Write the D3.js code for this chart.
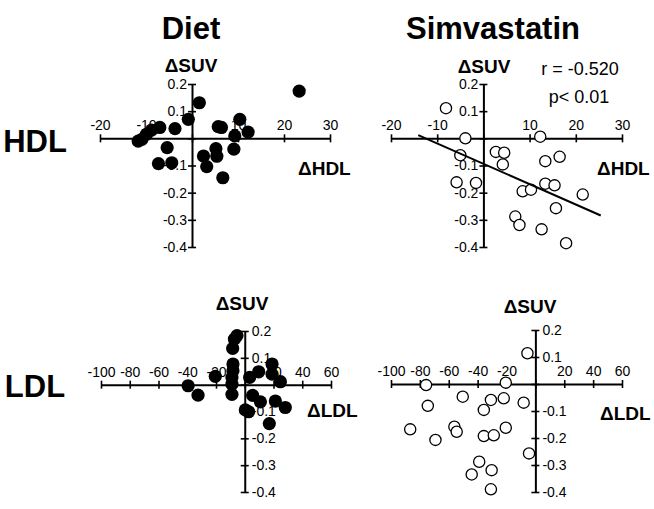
<!DOCTYPE html>
<html>
<head>
<meta charset="utf-8">
<script src="https://cdn.jsdelivr.net/npm/d3@7"></script>
<style>
  body { margin: 0; background: #fff; }
  text { font-family: "Liberation Sans", Arial, sans-serif; fill: #000; }
  .axis path, .axis line { stroke: #000; }
</style>
</head>
<body>
<div id="chart-area"></div>
<script>
// values
const hdlTicks = [-20, -10, 0, 10, 20, 30];
const ldlTicks = [-100, -80, -60, -40, -20, 0, 20, 40, 60];
const suvTicks = [-0.4, -0.3, -0.2, -0.1, 0, 0.1, 0.2];

const dietHdlX = [23.3, 1.6, -0.8, 10.4, 5.7, 6.4, 12.2, 9.3, -3.7, -7.0, -8.8, -9.9, -10.9, -11.7, -5.4, 9.1, 5.2, 2.5, 5.4, 3.2, -7.3, -4.4, 6.7];
const dietHdlY = [0.174, 0.131, 0.07, 0.07, 0.043, 0.04, 0.023, 0.009, 0.036, 0.04, 0.03, 0.015, -0.004, -0.01, -0.034, -0.04, -0.038, -0.065, -0.066, -0.104, -0.093, -0.09, -0.145];

const simHdlX = [-8.1, -3.9, 12.3, -5.0, 2.7, 4.5, 4.2, 13.4, 16.5, -5.8, -1.6, 8.5, 10.3, 13.4, 15.4, 21.5, 15.7, 6.9, 7.8, 12.6, 17.9];
const simHdlY = [0.111, 0, 0.006, -0.062, -0.05, -0.053, -0.096, -0.084, -0.068, -0.162, -0.164, -0.195, -0.189, -0.167, -0.173, -0.207, -0.257, -0.288, -0.319, -0.335, -0.386];

const dietLdlX = [-5.4, -7.2, -8.4, -8.2, -8.2, -8.9, -8.9, -8.9, -20.5, -39.4, -32.5, 0.4, 2.7, 5.5, 10.9, 3.4, 9.7, 19, 19, 24.8, 21.3, 28.2, 17.1];
const dietLdlY = [0.183, 0.17, 0.135, 0.077, 0.052, 0.027, 0.002, -0.036, 0.031, -0.004, -0.039, -0.094, -0.101, -0.04, -0.064, 0.027, 0.048, 0.077, 0.039, 0.011, -0.061, -0.085, -0.145];

const simLdlX = [-5.5, -75.7, -20.5, -50.3, -74.5, -30.8, -21.9, -35.7, -8.1, -86.7, -69.2, -56.1, -54.5, -35.7, -28.8, -20.5, -4.4, -38.9, -44.1, -30.3, -30.8];
const simLdlY = [0.114, -0.004, 0.005, -0.047, -0.081, -0.059, -0.053, -0.096, -0.069, -0.168, -0.207, -0.158, -0.177, -0.193, -0.19, -0.162, -0.257, -0.288, -0.335, -0.319, -0.39];

// regression line, simvastatin HDL panel
const fitX = [-14.1, 25.4];
const fitY = [0.012, -0.284];

const totalWidth = 654;
const totalHeight = 509;

const svg = d3.select("#chart-area")
  .append("svg")
    .attr("width", totalWidth)
    .attr("height", totalHeight);

const panels = [
  { xs: dietHdlX, ys: dietHdlY, ticks: hdlTicks, xRange: [100, 330], yRange: [247, 84], filled: true, yLeft: true,
    suvLabel: [191, 72], xLabel: ["ΔHDL", 298, 175] },
  { xs: simHdlX, ys: simHdlY, ticks: hdlTicks, xRange: [391, 622], yRange: [247, 84], filled: false, yLeft: true,
    suvLabel: [484, 73], xLabel: ["ΔHDL", 597, 175], fit: true },
  { xs: dietLdlX, ys: dietLdlY, ticks: ldlTicks, xRange: [101, 331], yRange: [492, 331], filled: true, yLeft: false,
    suvLabel: [242, 310], xLabel: ["ΔLDL", 307, 417] },
  { xs: simLdlX, ys: simLdlY, ticks: ldlTicks, xRange: [391, 622], yRange: [492, 330], filled: false, yLeft: false,
    suvLabel: [530, 313], xLabel: ["ΔLDL", 600, 420] }
];

const yFormat = d => d === 0 ? "" : String(+d.toFixed(1));
const xFormat = d => d === 0 ? "" : String(d);

panels.forEach(p => {
  const x = d3.scaleLinear().domain([p.ticks[0], p.ticks[p.ticks.length - 1]]).range(p.xRange);
  const y = d3.scaleLinear().domain([-0.4, 0.2]).range(p.yRange);
  const g = svg.append("g");

  // x axis through y = 0
  const xAxis = g.append("g")
    .attr("class", "axis")
    .attr("transform", "translate(0," + y(0) + ")")
    .call(d3.axisTop(x).tickValues(p.ticks).tickFormat(xFormat).tickSizeInner(4).tickSizeOuter(0).tickPadding(4));
  xAxis.select(".domain").attr("stroke-width", 2);
  xAxis.selectAll(".tick line").attr("y1", -4).attr("y2", 4).attr("stroke-width", 1.6);
  xAxis.selectAll(".tick text")
    .attr("font-size", "14px")
    .attr("font-family", "Liberation Sans, Arial, sans-serif");

  // y axis through x = 0
  const yAxisCall = (p.yLeft ? d3.axisLeft(y) : d3.axisRight(y))
    .tickValues(suvTicks).tickFormat(yFormat).tickSizeInner(4).tickSizeOuter(0).tickPadding(p.yLeft ? 1 : 3);
  const yAxis = g.append("g")
    .attr("class", "axis")
    .attr("transform", "translate(" + x(0) + ",0)")
    .call(yAxisCall);
  yAxis.select(".domain").attr("stroke-width", 2);
  yAxis.selectAll(".tick line").attr("x1", -4).attr("x2", 4).attr("stroke-width", 1.6);
  yAxis.selectAll(".tick text")
    .attr("font-size", "14px")
    .attr("font-family", "Liberation Sans, Arial, sans-serif");

  // points
  g.selectAll("circle")
    .data(d3.zip(p.xs, p.ys))
    .enter()
    .append("circle")
      .attr("cx", d => x(d[0]))
      .attr("cy", d => y(d[1]))
      .attr("r", p.filled ? 6.6 : 5.6)
      .attr("fill", p.filled ? "#000" : "#fff")
      .attr("stroke", "#000")
      .attr("stroke-width", p.filled ? 0 : 1.3);

  if (p.fit) {
    g.append("line")
      .attr("x1", x(fitX[0])).attr("y1", y(fitY[0]))
      .attr("x2", x(fitX[1])).attr("y2", y(fitY[1]))
      .attr("stroke", "#000")
      .attr("stroke-width", 2);
  }

  // axis titles
  g.append("text")
    .attr("x", p.suvLabel[0])
    .attr("y", p.suvLabel[1])
    .attr("text-anchor", "middle")
    .attr("font-size", "19px")
    .attr("font-weight", "bold")
    .text("ΔSUV");

  g.append("text")
    .attr("x", p.xLabel[1])
    .attr("y", p.xLabel[2])
    .attr("font-size", "19px")
    .attr("font-weight", "bold")
    .text(p.xLabel[0]);
});

// column titles
svg.append("text")
  .attr("x", 191).attr("y", 39)
  .attr("text-anchor", "middle")
  .attr("font-size", "31px").attr("font-weight", "bold")
  .text("Diet");

svg.append("text")
  .attr("x", 493).attr("y", 39)
  .attr("text-anchor", "middle")
  .attr("font-size", "31px").attr("font-weight", "bold")
  .text("Simvastatin");

// row titles
svg.append("text")
  .attr("x", 35).attr("y", 152)
  .attr("text-anchor", "middle")
  .attr("font-size", "31px").attr("font-weight", "bold")
  .text("HDL");

svg.append("text")
  .attr("x", 35).attr("y", 397)
  .attr("text-anchor", "middle")
  .attr("font-size", "31px").attr("font-weight", "bold")
  .text("LDL");

// correlation note
svg.append("text")
  .attr("x", 580).attr("y", 75)
  .attr("text-anchor", "middle")
  .attr("font-size", "18px")
  .text("r = -0.520");

svg.append("text")
  .attr("x", 579).attr("y", 103)
  .attr("text-anchor", "middle")
  .attr("font-size", "18px")
  .text("p< 0.01");
</script>
</body>
</html>
